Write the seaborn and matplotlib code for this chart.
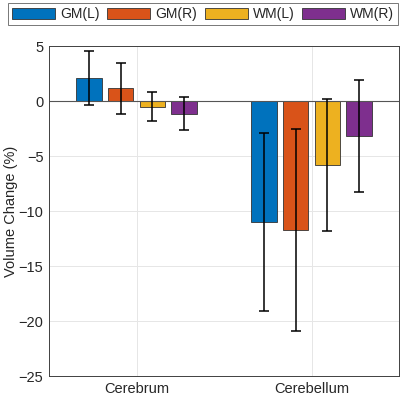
import numpy as np
import pandas as pd
import matplotlib
matplotlib.use("Agg")
import matplotlib.pyplot as plt
import seaborn as sns

# data
regions = ["Cerebrum", "Cerebellum"]
tissues = ["GM(L)", "GM(R)", "WM(L)", "WM(R)"]
means = {
    "Cerebrum":   [2.1, 1.15, -0.5, -1.15],
    "Cerebellum": [-11.0, -11.75, -5.85, -3.15],
}
errs = {
    "Cerebrum":   [2.45, 2.35, 1.33, 1.5],
    "Cerebellum": [8.05, 9.2, 6.0, 5.1],
}
colors = ["#0072BD", "#D95319", "#EDB120", "#7E2F8E"]

rows = []
for r in regions:
    for t, m, e in zip(tissues, means[r], errs[r]):
        rows.append({"region": r, "tissue": t, "mean": m, "err": e})
df = pd.DataFrame(rows)

sns.set_style("white")
plt.rcParams["font.family"] = ["Liberation Sans", "DejaVu Sans"]

fig = plt.figure(figsize=(4.0, 3.99), dpi=100)
ax = fig.add_axes([0.1225, 0.0576, 0.875, 0.827])

sns.barplot(data=df, x="region", y="mean", hue="tissue", order=regions,
            hue_order=tissues, palette=colors, errorbar=None, width=0.727,
            gap=0.2, edgecolor="#333333", linewidth=0.6, saturation=1,
            legend=True, ax=ax, zorder=2)

# error bars on bar centres
for cont, t in zip(ax.containers, tissues):
    sub = df[df.tissue == t].set_index("region").loc[regions]
    xs = [p.get_x() + p.get_width() / 2 for p in cont.patches]
    ax.errorbar(xs, sub["mean"], yerr=sub["err"], fmt="none", ecolor="black",
                elinewidth=1.1, capsize=3.5, capthick=1.1, zorder=3)

ax.axhline(0, color="#555555", lw=0.8, zorder=2.5)
ax.set_xlim(-0.5, 1.5)
ax.set_ylim(-25, 5)
ax.set_yticks(np.arange(-25, 6, 5))
ax.grid(True, color="#e6e6e6", lw=0.7, zorder=0)
ax.set_axisbelow(True)
ax.set_xlabel("")
ax.set_ylabel("Volume Change (%)", fontsize=10.5, color="#262626")
ax.yaxis.set_label_coords(-0.088, 0.5)
ax.tick_params(axis="both", labelsize=10.5, colors="#262626", length=3,
               direction="in", pad=4)
for s in ax.spines.values():
    s.set_color("#404040")
    s.set_linewidth(0.7)

handles, labels = ax.get_legend_handles_labels()
ax.get_legend().remove()
leg = fig.legend(handles, labels, loc="upper center", ncol=4,
                 bbox_to_anchor=(0.5075, 0.992), fontsize=10, frameon=True,
                 fancybox=False, edgecolor="#555555", handlelength=3.1,
                 handleheight=0.85, handletextpad=0.35, columnspacing=0.55,
                 borderpad=0.28, borderaxespad=0.0)
leg.get_frame().set_linewidth(0.7)

fig.savefig("out.png", dpi=100)
